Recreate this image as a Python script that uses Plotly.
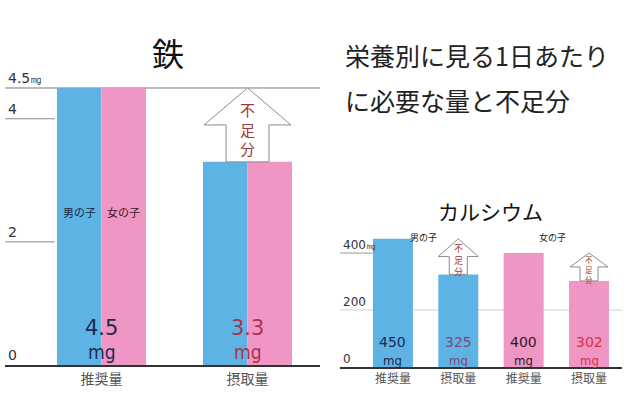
import numpy as np
import plotly.graph_objects as go

# ---------------- data ----------------
iron_categories = ["推奨量", "摂取量"]
iron_boys = [4.5, 3.3]
iron_girls = [4.5, 3.3]
iron_value_labels = ["4.5", "3.3"]
iron_tickvals = [0, 2, 4, 4.5]
iron_ticktext = ["0", "2", "4", "4.5<span style='font-size:12px'>㎎</span>"]

ca_categories = ["推奨量", "摂取量", "推奨量", "摂取量"]
ca_groups = ["男の子", "男の子", "女の子", "女の子"]
ca_values = [450, 325, 400, 302]
ca_tickvals = [0, 200, 400]
ca_ticktext = ["0", "200", "400<span style='font-size:10px'>㎎</span>"]

BLUE = "#5db4e4"
PINK = "#f096c4"
W, H = 640, 394
JP = "Noto Sans CJK JP"
NUM = "DejaVu Sans"
COND = "Liberation Sans Narrow, DejaVu Sans Condensed, DejaVu Sans"


def P(py):
    return 1 - py / H


def X(px):
    return px / W


fig = go.Figure()

# ---------------- iron ----------------
xi = np.arange(len(iron_categories))
bw_i = 0.305
fig.add_trace(go.Bar(x=xi, y=iron_boys, width=bw_i, offset=-bw_i, marker_color=BLUE,
                     marker_line_width=0, xaxis="x", yaxis="y", hoverinfo="skip"))
fig.add_trace(go.Bar(x=xi, y=iron_girls, width=bw_i, offset=0, marker_color=PINK,
                     marker_line_width=0, xaxis="x", yaxis="y", hoverinfo="skip"))

# ---------------- calcium ----------------
xc = np.arange(len(ca_categories))
bw_c = 0.612
ca_colors = [BLUE if g == "男の子" else PINK for g in ca_groups]
fig.add_trace(go.Bar(x=xc, y=ca_values, width=bw_c, marker_color=ca_colors,
                     marker_line_width=0, xaxis="x2", yaxis="y2", hoverinfo="skip"))

shapes = []
annotations = []

# iron guide lines
xr_i = [-0.661, 1.4966]
shapes.append(dict(type="line", xref="x domain", yref="y", x0=0, x1=1,
                   y0=iron_tickvals[3], y1=iron_tickvals[3], line=dict(color="#7a7a7a", width=1), layer="below"))
for v in iron_tickvals[1:3]:
    shapes.append(dict(type="line", xref="x", yref="y", x0=xr_i[0], x1=xi[0] - bw_i - 0.015,
                       y0=v, y1=v, line=dict(color="#8a8a8a", width=1), layer="below"))

# calcium guide lines
xr_c = [-0.81, 3.505]
shapes.append(dict(type="line", xref="x2 domain", yref="y2", x0=0, x1=1,
                   y0=ca_tickvals[1], y1=ca_tickvals[1], line=dict(color="#cfcfcf", width=1), layer="below"))
shapes.append(dict(type="line", xref="x2", yref="y2", x0=xr_c[0], x1=xc[0] - bw_c / 2,
                   y0=ca_tickvals[2], y1=ca_tickvals[2], line=dict(color="#9a9a9a", width=1), layer="below"))


def arrow(xcen, hh, hs, yb, yt, xref, yref):
    ym = (yb + yt) / 2
    d = (f"M {xcen-hs},{yb} L {xcen-hs},{ym} L {xcen-hh},{ym} L {xcen},{yt} "
         f"L {xcen+hh},{ym} L {xcen+hs},{ym} L {xcen+hs},{yb} Z")
    return dict(type="path", path=d, xref=xref, yref=yref, fillcolor="white",
                line=dict(color="#8c8c8c", width=1), layer="above")


def ann(**kw):
    kw.setdefault("showarrow", False)
    kw.setdefault("xanchor", "center")
    kw.setdefault("yanchor", "middle")
    annotations.append(kw)


# iron arrow
shapes.append(arrow(xi[1], 0.298, 0.147, iron_girls[1], iron_girls[0], "x", "y"))
ann(x=xi[1], y=(iron_girls[0] + iron_girls[1]) / 2, xref="x", yref="y",
    text="不<br>足<br>分", yshift=-4, font=dict(family=JP, size=15, color="#9a3a3a"))
# calcium arrows
shapes.append(arrow(xc[1], 0.306, 0.138, ca_values[1], ca_values[0], "x2", "y2"))
ann(x=xc[1], y=(ca_values[0] + ca_values[1]) / 2, xref="x2", yref="y2",
    text="不<br>足<br>分", yshift=-3, font=dict(family=JP, size=9, color="#9a3a3a"))
shapes.append(arrow(xc[3], 0.29, 0.138, ca_values[3], ca_values[2], "x2", "y2"))
ann(x=xc[3], y=(ca_values[2] + ca_values[3]) / 2, xref="x2", yref="y2",
    text="不<br>足<br>分", yshift=-3, font=dict(family=JP, size=7.5, color="#9a3a3a"))

# iron value labels
iron_val_colors = ["#1d2a4c", "#b0304c"]
for i, lab in enumerate(iron_value_labels):
    ann(x=xi[i], y=P(328), xref="x", yref="paper", text=lab,
        font=dict(family=NUM, size=21, color=iron_val_colors[i]))
    ann(x=xi[i], y=P(352), xref="x", yref="paper", text="mg",
        font=dict(family=COND, size=19, color=iron_val_colors[i]))

# calcium value labels
ca_val_colors = ["#1d2a4c", "#7f4a78", "#2a1a2a", "#d8304c"]
for i, v in enumerate(ca_values):
    ann(x=xc[i], y=P(342), xref="x2", yref="paper", text=str(v),
        font=dict(family=NUM, size=14, color=ca_val_colors[i]))
    ann(x=xc[i], y=P(360), xref="x2", yref="paper", text="mg",
        font=dict(family=COND, size=13, color=ca_val_colors[i]))

# boys / girls labels
ann(x=xi[0] - bw_i / 2, y=P(212), xref="x", yref="paper", text="男の子",
    font=dict(family=JP, size=11, color="#1a2a40"))
ann(x=xi[0] + bw_i / 2, y=P(212), xref="x", yref="paper", text="女の子",
    font=dict(family=JP, size=11, color="#3a1a2a"))
ann(x=X(423), y=P(237), xref="paper", yref="paper", text=ca_groups[0],
    font=dict(family=JP, size=9, color="#222"))
ann(x=X(552), y=P(237), xref="paper", yref="paper", text=ca_groups[2],
    font=dict(family=JP, size=9, color="#222"))

# titles
ann(x=X(168), y=P(52), xref="paper", yref="paper", text="鉄",
    font=dict(family=JP, size=32, color="#111"))
ann(x=X(490), y=P(211), xref="paper", yref="paper", text="カルシウム",
    font=dict(family=JP, size=21, color="#111"))
ann(x=X(343), y=P(55), xref="paper", yref="paper", text="栄養別に見る1日あたり",
    xanchor="left", font=dict(family=JP, size=25, color="#222"))
ann(x=X(343), y=P(100), xref="paper", yref="paper", text="に必要な量と不足分",
    xanchor="left", font=dict(family=JP, size=25, color="#222"))

# y ranges with headroom so the top tick labels stay inside the plot area
iron_top = 4.85
iron_pxu = (365 - 88) / 4.5
ca_top = 480
ca_pxu = 57 / 200

fig.update_layout(
    width=W, height=H, margin=dict(l=0, r=0, t=0, b=0),
    paper_bgcolor="white", plot_bgcolor="rgba(0,0,0,0)",
    showlegend=False, barmode="overlay",
    shapes=shapes, annotations=annotations,
    xaxis=dict(domain=[X(5), X(320)], range=xr_i, tickvals=xi, ticktext=iron_categories,
               showline=True, linecolor="#333", linewidth=2, showgrid=False, zeroline=False,
               ticks="", tickfont=dict(family=JP, size=14, color="#555"), anchor="y", fixedrange=True),
    yaxis=dict(domain=[P(365), P(365 - iron_top * iron_pxu)], range=[0, iron_top],
               tickvals=iron_tickvals, ticktext=iron_ticktext,
               ticklabelposition="inside top", showgrid=False, zeroline=False, showline=False,
               ticks="", tickfont=dict(family=NUM, size=14, color="#333"), anchor="x", fixedrange=True),
    xaxis2=dict(domain=[X(340), X(622)], range=xr_c, tickvals=xc, ticktext=ca_categories,
                showline=True, linecolor="#333", linewidth=2, showgrid=False, zeroline=False,
                ticks="", tickfont=dict(family=JP, size=12, color="#555"), anchor="y2", fixedrange=True),
    yaxis2=dict(domain=[P(367), P(367 - ca_top * ca_pxu)], range=[0, ca_top], tickvals=ca_tickvals,
                ticktext=ca_ticktext, ticklabelposition="inside top", showgrid=False, zeroline=False,
                showline=False, ticks="", tickfont=dict(family=NUM, size=12, color="#333"),
                anchor="x2", fixedrange=True),
)

fig.write_html("out.html", config={"displayModeBar": False},
               post_script="document.body.style.margin='0';")
